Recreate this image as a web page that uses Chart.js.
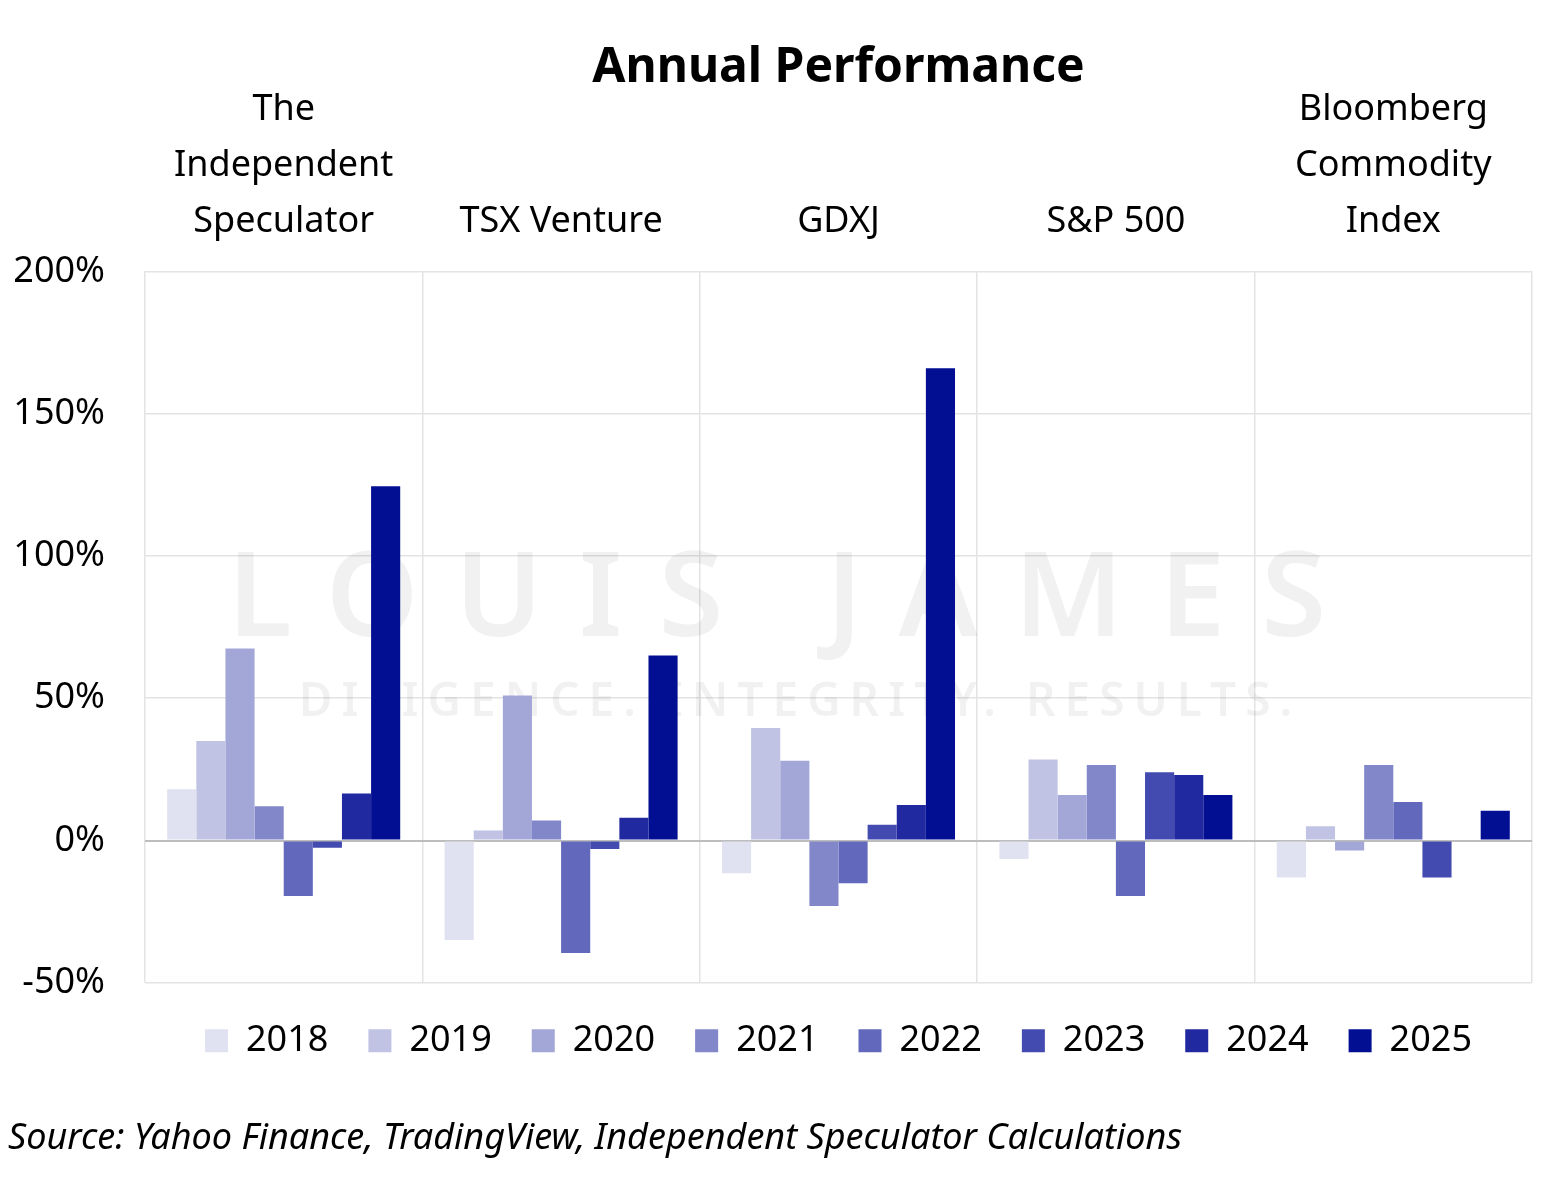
<!DOCTYPE html>
<html>
<head>
<meta charset="utf-8">
<script src="https://cdn.jsdelivr.net/npm/chart.js@4.4.1/dist/chart.umd.min.js"></script>
<style>
  html, body { margin: 0; padding: 0; background: #fff; }
  #wrap { width: 1546px; height: 1190px; position: relative; }
</style>
</head>
<body>
<div id="wrap"><canvas id="BarChart"></canvas></div>
<script>
// categories (top labels)
var categories = [
    ['The', 'Independent', 'Speculator'],
    'TSX Venture',
    'GDXJ',
    'S&P 500',
    ['Bloomberg', 'Commodity', 'Index']
];
var years = ['2018', '2019', '2020', '2021', '2022', '2023', '2024', '2025'];

// one array per year, values in % for each category
var y2018 = [18, -35, -11.5, -6.5, -13];
var y2019 = [35, 3.5, 39.5, 28.5, 5];
var y2020 = [67.5, 51, 28, 16, -3.5];
var y2021 = [12, 7, -23, 26.5, 26.5];
var y2022 = [-19.5, -39.5, -15, -19.5, 13.5];
var y2023 = [-2.5, -3, 5.5, 24, -13];
var y2024 = [16.5, 8, 12.5, 23, null];
var y2025 = [124.5, 65, 166, 16, 10.5];

var yTicks = [-50, 0, 50, 100, 150, 200];

var colors = ['#e0e1f1', '#c0c3e3', '#a2a7d8', '#8187c9', '#6268bb', '#434bb0', '#2129a0', '#030f92'];
var series = [y2018, y2019, y2020, y2021, y2022, y2023, y2024, y2025];

var FONT = "'Noto Sans', sans-serif";

// title + watermark drawn relative to the plot area
var extras = {
    id: 'extras',
    afterLayout: function (chart) {
        // legend sits centred under the plot area, not the canvas
        var lg = chart.legend;
        var shift = (chart.chartArea.left + chart.chartArea.right) / 2 - (lg.left + lg.right) / 2;
        lg.left += shift;
        lg.right += shift;
    },
    beforeDatasetsDraw: function (chart) {
        var ctx = chart.ctx;
        ctx.save();
        ctx.fillStyle = 'rgba(0,0,0,0.055)';
        ctx.textAlign = 'center';
        ctx.textBaseline = 'middle';
        ctx.font = '600 118px ' + FONT;
        ctx.letterSpacing = '36px';
        ctx.fillText('LOUIS JAMES', 795, 602);
        ctx.font = '600 46px ' + FONT;
        ctx.letterSpacing = '9px';
        ctx.fillText('DILIGENCE. INTEGRITY. RESULTS.', 800, 703);
        ctx.restore();
    },
    afterDraw: function (chart) {
        var ctx = chart.ctx;
        var area = chart.chartArea;
        ctx.save();
        ctx.fillStyle = '#000';
        ctx.textAlign = 'center';
        ctx.textBaseline = 'middle';
        ctx.font = 'bold 48px ' + FONT;
        ctx.fillText('Annual Performance', (area.left + area.right) / 2, 68);
        ctx.restore();
    }
};

var ctx = document.getElementById('BarChart').getContext('2d');
var chart1 = new Chart(ctx, {
    type: 'bar',
    data: {
        labels: categories,
        datasets: years.map(function (yr, i) {
            return {
                label: yr,
                data: series[i],
                backgroundColor: colors[i],
                borderWidth: 0,
                categoryPercentage: 0.84,
                barPercentage: 1.0
            };
        })
    },
    options: {
        responsive: true,
        maintainAspectRatio: false,
        animation: false,
        layout: { padding: { top: 60, left: 8, right: 14, bottom: 4 } },
        scales: {
            x: {
                position: 'top',
                grid: { color: '#e3e3e3', lineWidth: 1.5, offset: true, drawTicks: false },
                border: { display: false },
                ticks: {
                    color: '#000',
                    font: { family: FONT, size: 36, lineHeight: 1.55 },
                    padding: 22,
                    maxRotation: 0,
                    autoSkip: false
                }
            },
            y: {
                min: -50,
                max: 200,
                afterBuildTicks: function (axis) {
                    axis.ticks = yTicks.map(function (v) { return { value: v }; });
                },
                afterFit: function (axis) {
                    axis.width = 137;
                },
                grid: {
                    drawTicks: false,
                    lineWidth: function (c) { return c.tick && c.tick.value === 0 ? 2 : 1.5; },
                    color: function (c) { return c.tick && c.tick.value === 0 ? '#bdbdbd' : '#e3e3e3'; }
                },
                border: { display: false },
                ticks: {
                    color: '#000',
                    font: { family: FONT, size: 36 },
                    padding: 40,
                    callback: function (v) { return v + '%'; }
                }
            }
        },
        plugins: {
            legend: {
                position: 'bottom',
                labels: {
                    color: '#000',
                    font: { family: FONT, size: 36 },
                    boxWidth: 23,
                    boxHeight: 23,
                    padding: 40
                }
            },
            subtitle: {
                display: true,
                position: 'bottom',
                align: 'start',
                text: 'Source: Yahoo Finance, TradingView, Independent Speculator Calculations',
                color: '#000',
                font: { family: FONT, size: 36, style: 'italic' },
                padding: { top: 48, bottom: 26 }
            },
            tooltip: { enabled: false }
        }
    },
    plugins: [extras]
});
</script>
</body>
</html>
